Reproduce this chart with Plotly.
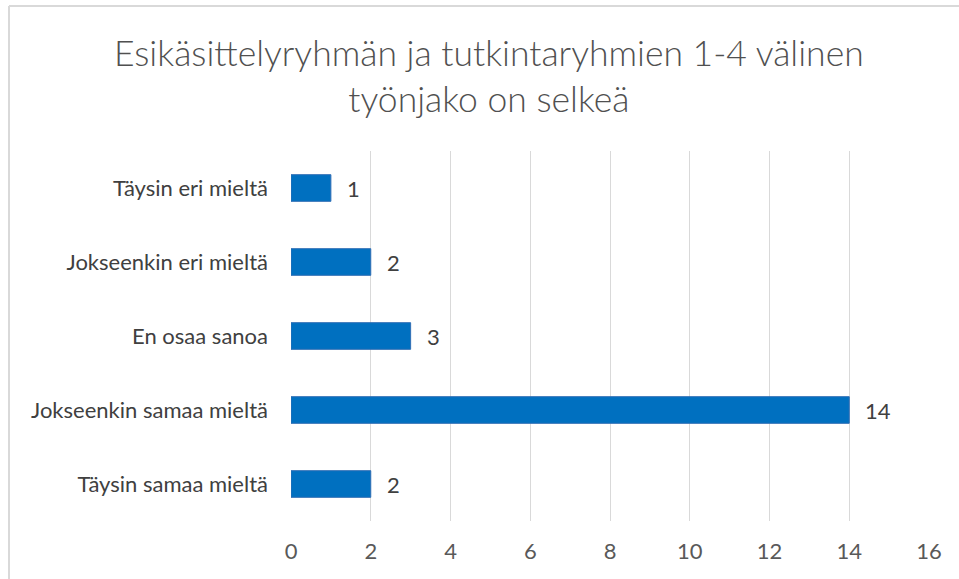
import plotly.graph_objects as go

categories = ["Täysin eri mieltä", "Jokseenkin eri mieltä", "En osaa sanoa",
              "Jokseenkin samaa mieltä", "Täysin samaa mieltä"]
values = [1, 2, 3, 14, 2]
x_ticks = [0, 2, 4, 6, 8, 10, 12, 14, 16]
title_text = "Esikäsittelyryhmän ja tutkintaryhmien 1-4 välinen<br>työnjako on selkeä"

FONT = "Lato"
W, H = 959, 579
L, R, T, B = 291, 30, 151, 58

fig = go.Figure()
fig.add_trace(go.Bar(
    y=categories, x=values, orientation="h",
    marker=dict(color="#0070C0", line=dict(color="#2F6EB5", width=1)),
    width=0.36, hoverinfo="skip",
))

for c, v in zip(categories, values):
    fig.add_annotation(x=v, y=c, text=str(v), showarrow=False,
                       xanchor="left", xshift=14,
                       font=dict(family=FONT, size=22, color="#404040"))

pw = W - L - R
ph = H - T - B
def px2x(px):
    return (px - L) / pw
def py2y(py):
    return (H - B - py) / ph

fig.add_shape(type="line", xref="paper", yref="paper",
              x0=px2x(9), x1=px2x(9), y0=py2y(6), y1=py2y(600),
              line=dict(color="#D9D9D9", width=2))
fig.add_shape(type="line", xref="paper", yref="paper",
              x0=px2x(9), x1=px2x(980), y0=py2y(6), y1=py2y(6),
              line=dict(color="#D9D9D9", width=2))

fig.add_annotation(text=title_text, xref="paper", yref="paper",
                   x=px2x(489), y=py2y(75), xanchor="center", yanchor="middle",
                   showarrow=False, align="center",
                   font=dict(family=FONT, size=35.5, color="#505050", weight=300))

fig.update_layout(
    width=W, height=H,
    margin=dict(l=L, r=R, t=T, b=B),
    paper_bgcolor="white", plot_bgcolor="white",
    showlegend=False,
    xaxis=dict(range=[0, 16], tickvals=x_ticks, showgrid=True,
               gridcolor="#D9D9D9", gridwidth=1, zeroline=False,
               showline=False, ticks="", ticklabelstandoff=15,
               tickfont=dict(family=FONT, size=22, color="#595959")),
    yaxis=dict(autorange="reversed", showgrid=False, zeroline=False,
               showline=False, ticks="", ticklabelstandoff=22,
               tickfont=dict(family=FONT, size=22, color="#404040")),
    bargap=0.64,
)

fig.write_html("out.html", config={"displayModeBar": False},
               post_script="document.body.style.margin='0';document.body.style.overflow='hidden';")
